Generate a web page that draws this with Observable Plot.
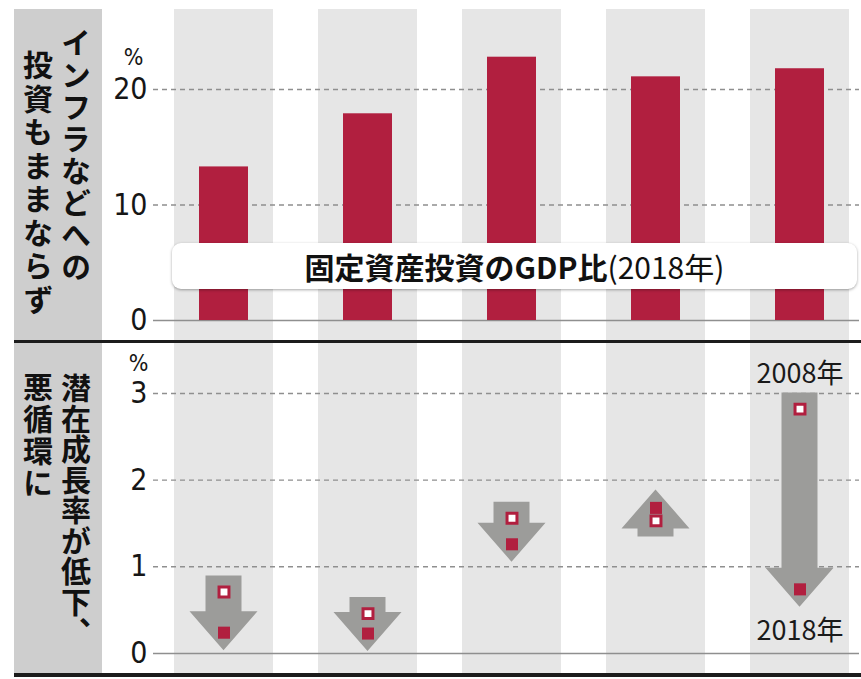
<!DOCTYPE html>
<html>
<head>
<meta charset="utf-8">
<script src="https://cdn.jsdelivr.net/npm/d3@7"></script>
<script src="https://cdn.jsdelivr.net/npm/@observablehq/plot@0.6"></script>
<style>
  html, body { margin: 0; padding: 0; background: #fff; }
  #wrap { position: relative; width: 861px; height: 679px; overflow: hidden; background: #fff; }
  .abs { position: absolute; }
  .strip { position: absolute; background: #cecece; z-index: 2; }
  .vt { position: absolute; z-index: 3; writing-mode: vertical-rl; font-family: "Noto Sans CJK JP", sans-serif;
        font-weight: 700; font-size: 30px; line-height: 1; color: #111; letter-spacing: 2px; white-space: nowrap; }
  .rule { position: absolute; background: #1c1c1c; z-index: 4; }
  #titlebox { position: absolute; z-index: 5; left: 172px; top: 243px; width: 685px; height: 46px;
              background: #fff; border-radius: 9px; box-shadow: 0 1px 3px rgba(0,0,0,0.35);
              display: flex; align-items: center; justify-content: center;
              font-family: "Noto Sans CJK JP", sans-serif; font-size: 30px; color: #111; line-height: 1; }
  #titlebox b { font-weight: 700; }
  #titlebox span { font-weight: 400; }
</style>
</head>
<body>
<div id="wrap">
  <div id="top" class="abs" style="left:0;top:0"></div>
  <div id="bottom" class="abs" style="left:0;top:340px"></div>
  <div class="strip" style="left:14px;top:9px;width:88px;height:331px"></div>
  <div class="strip" style="left:14px;top:343px;width:88px;height:330px"></div>
  <div class="vt" style="left:61px;top:28px">インフラなどへの</div>
  <div class="vt" style="left:23px;top:50px;letter-spacing:3.5px">投資もままならず</div>
  <div class="vt" style="left:61px;top:373px;letter-spacing:0.5px">潜在成長率が低下、</div>
  <div class="vt" style="left:23px;top:372px">悪循環に</div>
  <div class="rule" style="left:14px;top:340px;width:847px;height:3px"></div>
  <div class="rule" style="left:14px;top:673px;width:847px;height:4px"></div>
  <div id="titlebox"><b>固定資産投資のGDP比</b><span>(2018年)</span></div>
</div>
<script>
// ---- data ----
const countries = ["国A", "国B", "国C", "国D", "国E"];
const investShare2018 = [13.3, 17.9, 22.8, 21.1, 21.8];     // 固定資産投資のGDP比 (%)
const potential2008 = [0.71, 0.46, 1.56, 1.53, 2.82];       // 潜在成長率 2008年 (%)
const potential2018 = [0.24, 0.23, 1.26, 1.68, 0.74];       // 潜在成長率 2018年 (%)
const topTicks = [0, 10, 20];
const bottomTicks = [0, 1, 2, 3];
const yearLabels = ["2008年", "2018年"];

// ---- tables ----
const invest = countries.map((c, i) => ({c, v: investShare2018[i]}));
const growth = countries.map((c, i) => ({c, v2008: potential2008[i], v2018: potential2018[i]}));

const crimson = "#b11f3f";
const band = "#e6e6e6";
const gridColor = "#8f8f8f";
const arrowGray = "#9c9c9a";
const axisFont = "'Liberation Sans Narrow','DejaVu Sans Condensed','Roboto',sans-serif";

const xOpts = {type: "band", domain: countries, range: [172, 852], paddingInner: 0.31, paddingOuter: 0, axis: null};
const commonStyle = {fontFamily: axisFont, fontSize: "30px", color: "#161616", background: "transparent", overflow: "visible"};

// ---- top panel ----
const topDomain = [-1.73, 26.93];
const topPlot = Plot.plot({
  width: 861, height: 340,
  marginLeft: 153, marginRight: 2, marginTop: 9, marginBottom: 0,
  style: commonStyle,
  x: xOpts,
  y: {domain: topDomain, range: [340, 9], ticks: topTicks, tickSize: 0, tickPadding: 6, label: null, tickFormat: d => String(d)},
  marks: [
    Plot.barY(countries, {x: d => d, y1: topDomain[0], y2: topDomain[1], fill: band}),
    Plot.ruleY(topTicks.filter(t => t > 0), {stroke: gridColor, strokeWidth: 1.4, strokeDasharray: "5,4"}),
    Plot.ruleY([0], {stroke: gridColor, strokeWidth: 1.4}),
    Plot.barY(invest, {x: "c", y: "v", fill: crimson, insetLeft: 25, insetRight: 25}),
    Plot.text([topTicks[topTicks.length - 1]], {y: d => d, text: () => "%", frameAnchor: "left", dx: -20, dy: -32,
      textAnchor: "middle", fontSize: 23, fill: "#161616"})
  ]
});
document.getElementById("top").appendChild(topPlot);

// ---- bottom panel ----
const botDomain = [-0.231, 3.577];
const arrows = (index, scales) => {
  const x = scales.x, y = scales.y;
  const bw = x.bandwidth ? x.bandwidth() : 0;
  const g = d3.create("svg:g");
  for (const d of growth) {
    const cx = x(d.c) + bw / 2;
    const y0 = y(d.v2008), y1 = y(d.v2018);
    const dir = y1 >= y0 ? 1 : -1;
    const tail = y0 - dir * 16, tip = y1 + dir * 18, base = tip - dir * 39;
    const sw = 18, hw = 34;
    g.append("path")
      .attr("d", `M${cx - sw},${tail}L${cx + sw},${tail}L${cx + sw},${base}L${cx + hw},${base}L${cx},${tip}L${cx - hw},${base}L${cx - sw},${base}Z`)
      .attr("fill", arrowGray);
  }
  return g.node();
};
const last = growth[growth.length - 1];
const botPlot = Plot.plot({
  width: 861, height: 339,
  marginLeft: 153, marginRight: 2, marginTop: 3, marginBottom: 6,
  style: commonStyle,
  x: xOpts,
  y: {domain: botDomain, range: [333, 3], ticks: bottomTicks, tickSize: 0, tickPadding: 6, label: null, tickFormat: d => String(d)},
  marks: [
    Plot.barY(countries, {x: d => d, y1: botDomain[0], y2: botDomain[1], fill: band}),
    Plot.ruleY(bottomTicks.filter(t => t > 0), {stroke: gridColor, strokeWidth: 1.4, strokeDasharray: "5,4"}),
    Plot.ruleY([0], {stroke: gridColor, strokeWidth: 1.4}),
    arrows,
    Plot.dot(growth, {x: "c", y: "v2018", symbol: "square", r: 6.8, fill: crimson}),
    Plot.dot(growth, {x: "c", y: "v2008", symbol: "square", r: 5.6, fill: "white", stroke: crimson, strokeWidth: 3}),
    Plot.text([last], {x: "c", y: "v2008", text: () => yearLabels[0], dy: -35, fontSize: 27,
      fontFamily: "'Noto Sans CJK JP',sans-serif", fill: "#1a1a1a"}),
    Plot.text([last], {x: "c", y: "v2018", text: () => yearLabels[1], dy: 42, fontSize: 27,
      fontFamily: "'Noto Sans CJK JP',sans-serif", fill: "#1a1a1a"}),
    Plot.text([bottomTicks[bottomTicks.length - 1]], {y: d => d, text: () => "%", frameAnchor: "left", dx: -15, dy: -30,
      textAnchor: "middle", fontSize: 23, fill: "#161616"})
  ]
});
document.getElementById("bottom").appendChild(botPlot);
</script>
</body>
</html>
